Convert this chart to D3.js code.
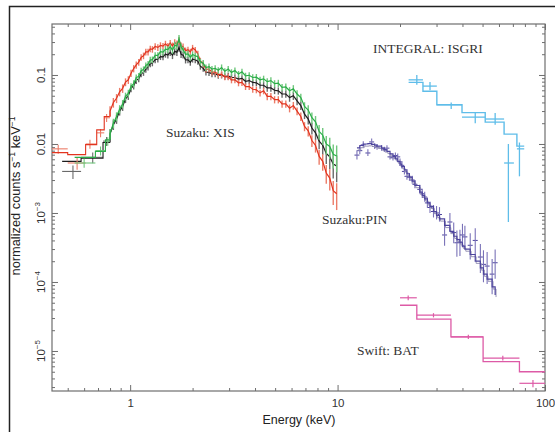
<!DOCTYPE html>
<html><head><meta charset="utf-8">
<script src="https://cdn.jsdelivr.net/npm/d3@7"></script>
<style>body{margin:0;background:#fff}svg{display:block}</style>
</head><body><svg id="c" width="555" height="432"></svg>
<script>
// ---------- DATA ----------
const xTickLabels = ["1", "10", "100"];
const xMajor = [1, 10, 100];
const yMajor = [0.1, 0.01, 1e-3, 1e-4, 1e-5];
const yTickLabels = [["0.1", ""], ["0.01", ""], ["10", "−3"], ["10", "−4"], ["10", "−5"]];

// XIS dense energy grid (keV)
const xisE = [0.80,0.83,0.86,0.89,0.92,0.95,0.98,1.01,1.04,1.07,1.10,1.13,1.16,1.19,1.22,1.25,1.28,1.32,1.36,1.40,
  1.44,1.48,1.52,1.56,1.60,1.64,1.68,1.72,1.76,1.80,1.85,1.90,1.95,2.00,2.06,2.12,2.18,2.25,2.32,2.40,
  2.48,2.57,2.66,2.76,2.86,2.97,3.08,3.20,3.33,3.46,3.60,3.75,3.90,4.06,4.23,4.40,4.58,4.77,4.97,5.18,
  5.40,5.63,5.87,6.12,6.38,6.65,6.93,7.22,7.52,7.83,8.15,8.48,8.82,9.17,9.53,9.90];
const xisBlack = [0.014,0.019,0.023,0.030,0.035,0.045,0.050,0.064,0.070,0.084,0.088,0.104,0.109,0.121,0.131,0.146,0.150,0.166,0.171,0.185,
  0.183,0.200,0.195,0.212,0.193,0.220,0.214,0.250,0.200,0.194,0.165,0.166,0.153,0.170,0.166,0.158,0.134,0.125,0.110,0.109,
  0.104,0.104,0.099,0.100,0.095,0.097,0.092,0.092,0.087,0.089,0.081,0.083,0.078,0.077,0.071,0.071,0.065,0.065,0.060,0.059,
  0.053,0.053,0.047,0.050,0.042,0.036,0.027,0.023,0.017,0.0145,0.011,0.0096,0.0073,0.0065,0.0051,0.0048];
const xisRed = [0.030,0.040,0.046,0.057,0.064,0.079,0.085,0.106,0.124,0.140,0.153,0.180,0.190,0.216,0.216,0.239,0.236,0.259,0.251,0.268,
  0.262,0.282,0.262,0.290,0.264,0.294,0.282,0.315,0.265,0.257,0.225,0.232,0.216,0.246,0.230,0.202,0.160,0.144,0.121,0.122,
  0.110,0.110,0.102,0.102,0.094,0.094,0.085,0.085,0.077,0.078,0.068,0.068,0.062,0.061,0.055,0.059,0.049,0.049,0.044,0.044,
  0.038,0.038,0.033,0.036,0.030,0.025,0.018,0.0155,0.0112,0.0095,0.0066,0.0056,0.0038,0.0032,0.0021,0.0019];
const xisGreen = [0.014,0.020,0.025,0.032,0.038,0.049,0.054,0.068,0.075,0.091,0.096,0.115,0.120,0.137,0.144,0.165,0.167,0.192,0.192,0.218,
  0.215,0.237,0.234,0.256,0.230,0.270,0.263,0.335,0.255,0.233,0.199,0.202,0.181,0.198,0.189,0.184,0.155,0.148,0.128,0.132,
  0.122,0.125,0.117,0.128,0.113,0.122,0.109,0.116,0.103,0.111,0.097,0.099,0.092,0.093,0.085,0.088,0.080,0.083,0.075,0.076,
  0.066,0.067,0.059,0.063,0.053,0.047,0.035,0.031,0.024,0.021,0.0152,0.0134,0.0100,0.0092,0.0071,0.0067];
const xisRelErr = [0.17,0.16,0.15,0.14,0.14,0.13,0.13,0.12,0.12,0.12,0.11,0.11,0.11,0.11,0.11,0.11,0.11,0.11,0.11,0.11,
  0.11,0.11,0.11,0.11,0.12,0.12,0.12,0.13,0.12,0.11,0.11,0.11,0.11,0.11,0.11,0.11,0.11,0.11,0.11,0.11,
  0.11,0.11,0.11,0.11,0.11,0.11,0.11,0.11,0.11,0.11,0.11,0.11,0.11,0.11,0.11,0.11,0.12,0.12,0.12,0.12,
  0.12,0.12,0.13,0.13,0.13,0.14,0.15,0.17,0.19,0.21,0.24,0.27,0.30,0.34,0.38,0.42];

// XIS low-energy wide bins
const blackLowE = [0.53, 0.66, 0.77], blackLowLo = [0.47, 0.58, 0.74], blackLowHi = [0.58, 0.74, 0.80];
const blackLowV = [0.0040, 0.0064, 0.011], blackLowErr = [0.22, 0.18, 0.15], blackLowModel = [0.0056, 0.0062, 0.0105];
const redLowE = [0.45, 0.555, 0.64, 0.72, 0.77], redLowLo = [0.42, 0.50, 0.61, 0.69, 0.75], redLowHi = [0.50, 0.61, 0.69, 0.75, 0.80];
const redLowV = [0.0085, 0.0053, 0.0100, 0.0145, 0.024], redLowErr = [0.15, 0.2, 0.15, 0.14, 0.13], redLowModel = [0.0075, 0.0070, 0.0098, 0.0160, 0.025];
const greenLowE = [0.60, 0.72, 0.78], greenLowLo = [0.54, 0.68, 0.76], greenLowHi = [0.68, 0.76, 0.80];
const greenLowV = [0.0053, 0.0080, 0.011], greenLowErr = [0.15, 0.15, 0.14], greenLowModel = [0.0064, 0.0078, 0.0115];

// Suzaku PIN
const pinE = [12.4,12.8,13.3,14.0,14.6,15.1,15.5,16.3,16.8,17.3,17.9,18.5,19.0,19.5,20.0,20.4,21.0,21.6,22.2,22.9,
  23.6,24.9,25.6,26.3,27.1,27.9,29.0,30.0,31.0,32.8,34.8,36.3,37.6,38.9,40.0,41.1,43.6,46.1,48.8,50.5,52.6,55.6,57.5];
const pinV = [0.0069,0.0080,0.0097,0.0074,0.0107,0.0092,0.0090,0.0087,0.0083,0.0087,0.0065,0.0063,0.0068,0.0065,0.0055,0.0049,0.0040,0.0034,0.0033,0.0030,
  0.0026,0.0022,0.0019,0.0017,0.0014,0.0012,0.00105,0.0010,0.00095,0.00048,0.00074,0.00052,0.00037,0.00038,0.00048,0.00045,0.00034,0.00040,0.00023,0.00018,0.00017,0.00013,0.00019];
const pinRelErr = [0.18,0.15,0.13,0.13,0.12,0.11,0.11,0.11,0.10,0.10,0.11,0.11,0.11,0.12,0.12,0.13,0.13,0.14,0.15,0.15,
  0.16,0.17,0.18,0.19,0.2,0.22,0.24,0.26,0.28,0.4,0.35,0.4,0.5,0.5,0.45,0.45,0.5,0.5,0.55,0.6,0.6,0.65,0.55];
const pinModel = [0.0088,0.0095,0.0100,0.0101,0.0099,0.0096,0.0093,0.0087,0.0082,0.0078,0.0072,0.0066,0.0061,0.0056,0.0051,0.0047,0.0042,0.0037,0.0033,0.0029,
  0.0025,0.0020,0.0018,0.0016,0.0014,0.00125,0.00105,0.00092,0.00082,0.00066,0.00054,0.00046,0.00041,0.00037,0.00033,0.00030,0.00025,0.00020,0.00016,0.00013,0.00011,0.000085,0.000065];

// INTEGRAL ISGRI
const isgriE = [24.1, 27.9, 35.3, 46.1, 57.5, 66.6, 75.3];
const isgriLo = [22.0, 25.8, 30.1, 39.8, 51.5, 63.5, 73.2];
const isgriHi = [25.8, 30.1, 39.8, 51.5, 63.5, 70.8, 79.4];
const isgriV = [0.085, 0.069, 0.037, 0.0245, 0.023, 0.0053, 0.0085];
const isgriErrLo = [0.072, 0.060, 0.032, 0.020, 0.019, 0.00074, 0.0034];
const isgriErrHi = [0.100, 0.079, 0.040, 0.028, 0.028, 0.0100, 0.0105];
const isgriModel = [0.078, 0.058, 0.037, 0.0285, 0.0207, 0.0139, 0.0093];

// Swift BAT
const batE = [21.9, 29.0, 42.7, 62.6, 87.5];
const batLo = [20.0, 24.1, 35.2, 50.3, 75.3];
const batHi = [24.1, 35.2, 50.3, 75.3, 100];
const batV = [5.9e-5, 3.3e-5, 1.6e-5, 7.9e-6, 3.4e-6];
const batRelErr = [0.08, 0.07, 0.07, 0.08, 0.12];
const batModel = [4.6e-5, 2.9e-5, 1.6e-5, 7.0e-6, 5.0e-6];

const labels = [
  {t: "INTEGRAL: ISGRI", e: 14.8, v: 0.208},
  {t: "Suzaku: XIS", e: 1.49, v: 0.0126},
  {t: "Suzaku:PIN", e: 8.42, v: 0.00069},
  {t: "Swift: BAT", e: 12.4, v: 8.75e-6}
];

// ---------- CHART ----------
const svg = d3.select('#c');
const L = 52, R = 545, T = 24, B = 391;
const x = d3.scaleLog().domain([0.42, 100]).range([L, R]);
const y = d3.scaleLog().domain([2.63e-6, 0.548]).range([B, T]);
const axisCol = '#6e6e6e';
const sans = "'Liberation Sans', Arial, Helvetica, sans-serif";
const serif = "'Liberation Serif', 'Times New Roman', serif";

// outer frame
svg.append('path').attr('d', `M9.5,432 V6.5 H555`).attr('fill', 'none').attr('stroke', '#222').attr('stroke-width', 1.5);

// minor tick values
const xMinor = [], yMinor = [];
[0.1, 1, 10].forEach(d => { for (let k = 2; k <= 9; k++) { const v = k * d; if (v >= 0.42 && v <= 100) xMinor.push(v); } });
[1e-6, 1e-5, 1e-4, 1e-3, 1e-2, 0.1].forEach(d => { for (let k = 2; k <= 9; k++) { const v = k * d; if (v >= 2.63e-6 && v <= 0.548) yMinor.push(v); } });

function styleAxis(g) {
  g.select('.domain').remove();
  g.selectAll('.tick line').attr('stroke', axisCol).attr('stroke-width', 1);
  g.selectAll('.tick text').attr('fill', '#333').style('font-family', sans).style('font-size', '11.5px');
}
svg.append('g').attr('transform', `translate(0,${B})`)
  .call(d3.axisBottom(x).tickValues(xMinor).tickSize(-3).tickFormat('')).call(styleAxis);
svg.append('g').attr('transform', `translate(0,${B})`)
  .call(d3.axisBottom(x).tickValues(xMajor).tickSize(-6).tickPadding(8).tickFormat((d, i) => xTickLabels[i])).call(styleAxis);
svg.append('g').attr('transform', `translate(0,${T})`)
  .call(d3.axisTop(x).tickValues(xMinor).tickSize(-3).tickFormat('')).call(styleAxis);
svg.append('g').attr('transform', `translate(0,${T})`)
  .call(d3.axisTop(x).tickValues(xMajor).tickSize(-6).tickFormat('')).call(styleAxis);
svg.append('g').attr('transform', `translate(${L},0)`)
  .call(d3.axisLeft(y).tickValues(yMinor).tickSize(-3).tickFormat('')).call(styleAxis);
svg.append('g').attr('transform', `translate(${L},0)`)
  .call(d3.axisLeft(y).tickValues(yMajor).tickSize(-6).tickFormat('')).call(styleAxis);
svg.append('g').attr('transform', `translate(${R},0)`)
  .call(d3.axisRight(y).tickValues(yMinor).tickSize(-3).tickFormat('')).call(styleAxis);
svg.append('g').attr('transform', `translate(${R},0)`)
  .call(d3.axisRight(y).tickValues(yMajor).tickSize(-6).tickFormat('')).call(styleAxis);

svg.append('rect').attr('x', L).attr('y', T).attr('width', R - L).attr('height', B - T)
  .attr('fill', 'none').attr('stroke', axisCol).attr('stroke-width', 1.2);

yMajor.forEach((v, i) => {
  const t = svg.append('text').attr('transform', `translate(45,${y(v)}) rotate(-90)`)
    .attr('text-anchor', 'middle').attr('fill', '#333').style('font-family', sans).style('font-size', '11.5px');
  t.append('tspan').text(yTickLabels[i][0]);
  if (yTickLabels[i][1]) t.append('tspan').attr('dy', -5).style('font-size', '8px').text(yTickLabels[i][1]);
});

svg.append('text').attr('x', 299).attr('y', 424).attr('text-anchor', 'middle')
  .attr('fill', '#222').style('font-family', sans).style('font-size', '12.5px').text('Energy (keV)');
const yt = svg.append('text').attr('transform', `translate(20,196) rotate(-90)`).attr('text-anchor', 'middle')
  .attr('fill', '#222').style('font-family', sans).style('font-size', '12.8px');
yt.append('tspan').text('normalized counts s');
yt.append('tspan').attr('dy', -5).style('font-size', '8.5px').text('−1');
yt.append('tspan').attr('dy', 5).text(' keV');
yt.append('tspan').attr('dy', -5).style('font-size', '8.5px').text('−1');

const plot = svg.append('g');
const stepLine = d3.line().x(d => x(d[0])).y(d => y(d[1])).curve(d3.curveStepAfter);
const polyLine = d3.line().x(d => x(d[0])).y(d => y(d[1]));

function crosses(g, E, lo, hi, V, vlo, vhi, col, w) {
  E.forEach((e, i) => {
    g.append('line').attr('x1', x(lo[i])).attr('x2', x(hi[i])).attr('y1', y(V[i])).attr('y2', y(V[i]))
      .attr('stroke', col).attr('stroke-width', w);
    g.append('line').attr('x1', x(e)).attr('x2', x(e)).attr('y1', y(vlo[i])).attr('y2', y(vhi[i]))
      .attr('stroke', col).attr('stroke-width', w);
  });
}

function xis(lowE, lowLo, lowHi, lowV, lowErr, lowModel, dense, col, errCol) {
  const g = plot.append('g');
  crosses(g, lowE, lowLo, lowHi, lowV, lowV.map((v, i) => v * (1 - lowErr[i])), lowV.map((v, i) => v * (1 + lowErr[i])), errCol, 1.1);
  const pts = lowLo.map((l, i) => [l, lowModel[i]]);
  pts.push([lowHi[lowHi.length - 1], lowModel[lowModel.length - 1]]);
  g.append('path').attr('d', stepLine(pts)).attr('fill', 'none').attr('stroke', col).attr('stroke-width', 1.1);
  xisE.forEach((e, i) => {
    g.append('line').attr('x1', x(e)).attr('x2', x(e))
      .attr('y1', y(dense[i] * (1 - xisRelErr[i]))).attr('y2', y(dense[i] * (1 + xisRelErr[i])))
      .attr('stroke', errCol).attr('stroke-width', 1.4);
  });
  const d = xisE.map((e, i) => [e, dense[i]]);
  d.unshift([0.80, lowModel[lowModel.length - 1]]);
  g.append('path').attr('d', polyLine(d)).attr('fill', 'none').attr('stroke', col).attr('stroke-width', 1.2);
}
xis(blackLowE, blackLowLo, blackLowHi, blackLowV, blackLowErr, blackLowModel, xisBlack, '#1c1c1c', '#6a6a6a');
xis(redLowE, redLowLo, redLowHi, redLowV, redLowErr, redLowModel, xisRed, '#e2341f', '#ec7c68');
xis(greenLowE, greenLowLo, greenLowHi, greenLowV, greenLowErr, greenLowModel, xisGreen, '#2aad48', '#6fc77c');

// PIN
const pinCol = '#4d449d';
const pg = plot.append('g');
pinE.forEach((e, i) => {
  pg.append('line').attr('x1', x(e) - 2.5).attr('x2', x(e) + 2.5).attr('y1', y(pinV[i])).attr('y2', y(pinV[i]))
    .attr('stroke', pinCol).attr('stroke-width', 1);
  pg.append('line').attr('x1', x(e)).attr('x2', x(e)).attr('y1', y(pinV[i] * (1 - pinRelErr[i] * 0.75))).attr('y2', y(pinV[i] * (1 + pinRelErr[i])))
    .attr('stroke', '#7a72b8').attr('stroke-width', 1.1);
});
const pinPts = pinE.map((e, i) => [e, pinModel[i]]);
pg.append('path').attr('d', stepLine(pinPts.map(p => [p[0] * 1.01, p[1] * 0.93]))).attr('fill', 'none').attr('stroke', '#9a96b8').attr('stroke-width', 1);
pg.append('path').attr('d', stepLine(pinPts)).attr('fill', 'none').attr('stroke', pinCol).attr('stroke-width', 1.2);

// ISGRI
const isCol = '#5fbde9';
const ig = plot.append('g');
crosses(ig, isgriE, isgriLo, isgriHi, isgriV, isgriErrLo, isgriErrHi, isCol, 1.3);
const isPts = isgriLo.map((l, i) => [l, isgriModel[i]]);
isPts.push([isgriHi[isgriHi.length - 1], isgriModel[isgriModel.length - 1]]);
ig.append('path').attr('d', stepLine(isPts)).attr('fill', 'none').attr('stroke', isCol).attr('stroke-width', 1.4);

// BAT
const batCol = '#dd5aa6';
const bg = plot.append('g');
crosses(bg, batE, batLo, batHi, batV, batV.map((v, i) => v * (1 - batRelErr[i])), batV.map((v, i) => v * (1 + batRelErr[i])), batCol, 1.2);
const batPts = batLo.map((l, i) => [l, batModel[i]]);
batPts.push([batHi[batHi.length - 1], batModel[batModel.length - 1]]);
bg.append('path').attr('d', stepLine(batPts)).attr('fill', 'none').attr('stroke', batCol).attr('stroke-width', 1.3);

labels.forEach(l => {
  svg.append('text').attr('x', x(l.e)).attr('y', y(l.v)).attr('fill', '#333')
    .style('font-family', serif).style('font-size', '13.5px').text(l.t);
});
</script></body></html>
